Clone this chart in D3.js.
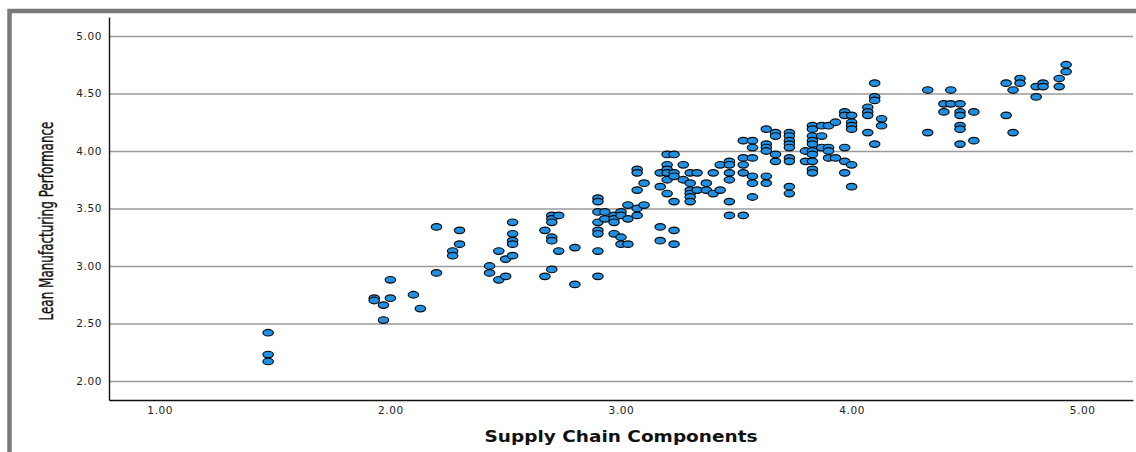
<script src="https://d3js.org/d3.v7.min.js"></script>

<style>
  body { margin: 0; background: #fff; }
  svg { display: block; }
</style>

<body>
  <svg id="vis"></svg>
</body>

<script>
  // - - - - data (x = supply chain, y = lean performance) - - - -
  var supplyChain = [
    1.47, 1.47, 1.47,
    1.93, 1.93, 1.97, 1.97, 2.00, 2.00, 2.10, 2.13,
    2.20, 2.20, 2.27, 2.27, 2.30, 2.30,
    2.43, 2.43, 2.47, 2.47, 2.50, 2.50,
    2.53, 2.53, 2.53, 2.53, 2.53,
    2.67, 2.67, 2.70, 2.70, 2.70, 2.70, 2.70, 2.70, 2.73, 2.73, 2.80, 2.80,
    2.90, 2.90, 2.90, 2.90, 2.90, 2.90, 2.90, 2.90,
    2.93, 2.93, 2.97, 2.97, 2.97, 2.97,
    3.00, 3.00, 3.00, 3.00, 3.03, 3.03, 3.03,
    3.07, 3.07, 3.07, 3.07, 3.07, 3.10, 3.10,
    3.17, 3.17, 3.17, 3.17,
    3.20, 3.20, 3.20, 3.20, 3.20, 3.20,
    3.23, 3.23, 3.23, 3.23, 3.23, 3.23,
    3.27, 3.27,
    3.30, 3.30, 3.30, 3.30, 3.30, 3.30,
    3.33, 3.33, 3.37, 3.37, 3.40, 3.40, 3.43, 3.43,
    3.47, 3.47, 3.47, 3.47, 3.47, 3.47,
    3.53, 3.53, 3.53, 3.53, 3.53,
    3.57, 3.57, 3.57, 3.57, 3.57, 3.57,
    3.63, 3.63, 3.63, 3.63, 3.63, 3.63,
    3.67, 3.67, 3.67, 3.67,
    3.73, 3.73, 3.73, 3.73, 3.73, 3.73, 3.73, 3.73, 3.73,
    3.80, 3.80,
    3.83, 3.83, 3.83, 3.83, 3.83, 3.83, 3.83, 3.83, 3.83, 3.83,
    3.87, 3.87, 3.87,
    3.90, 3.90, 3.90, 3.90,
    3.93, 3.93,
    3.97, 3.97, 3.97, 3.97, 3.97,
    4.00, 4.00, 4.00, 4.00, 4.00, 4.00,
    4.07, 4.07, 4.07, 4.07,
    4.10, 4.10, 4.10, 4.10,
    4.13, 4.13,
    4.33, 4.33, 4.40, 4.40, 4.43, 4.43,
    4.47, 4.47, 4.47, 4.47, 4.47, 4.47,
    4.53, 4.53, 4.67, 4.67, 4.70, 4.70, 4.73, 4.73,
    4.80, 4.80, 4.83, 4.83, 4.90, 4.90, 4.93, 4.93
  ];

  var leanPerf = [
    2.42, 2.23, 2.17,
    2.72, 2.70, 2.66, 2.53, 2.88, 2.72, 2.75, 2.63,
    3.34, 2.94, 3.13, 3.09, 3.31, 3.19,
    3.00, 2.94, 3.13, 2.88, 3.06, 2.91,
    3.38, 3.28, 3.22, 3.19, 3.09,
    3.31, 2.91, 3.44, 3.41, 3.38, 3.25, 3.22, 2.97, 3.44, 3.13, 3.16, 2.84,
    3.59, 3.56, 3.47, 3.38, 3.31, 3.28, 3.13, 2.91,
    3.47, 3.41, 3.44, 3.41, 3.38, 3.28,
    3.47, 3.44, 3.25, 3.19, 3.53, 3.41, 3.19,
    3.84, 3.81, 3.66, 3.50, 3.44, 3.72, 3.53,
    3.81, 3.69, 3.34, 3.22,
    3.97, 3.88, 3.84, 3.81, 3.75, 3.63,
    3.97, 3.81, 3.78, 3.56, 3.31, 3.19,
    3.88, 3.75,
    3.81, 3.72, 3.66, 3.63, 3.60, 3.56,
    3.81, 3.66, 3.72, 3.66, 3.81, 3.63, 3.88, 3.66,
    3.91, 3.88, 3.81, 3.75, 3.56, 3.44,
    4.09, 3.94, 3.88, 3.81, 3.44,
    4.09, 4.03, 3.94, 3.78, 3.72, 3.60,
    4.19, 4.06, 4.03, 4.00, 3.78, 3.72,
    4.16, 4.13, 3.97, 3.91,
    4.16, 4.13, 4.09, 4.06, 4.03, 3.94, 3.91, 3.69, 3.63,
    4.00, 3.91,
    4.22, 4.19, 4.13, 4.09, 4.06, 4.00, 3.97, 3.91, 3.84, 3.81,
    4.22, 4.13, 4.03,
    4.22, 4.03, 4.00, 3.94,
    4.25, 3.94,
    4.34, 4.31, 4.03, 3.91, 3.81,
    4.31, 4.25, 4.22, 4.19, 3.88, 3.69,
    4.38, 4.34, 4.31, 4.16,
    4.59, 4.47, 4.44, 4.06,
    4.28, 4.22,
    4.53, 4.16, 4.41, 4.34, 4.53, 4.41,
    4.41, 4.34, 4.31, 4.22, 4.19, 4.06,
    4.34, 4.09, 4.59, 4.31, 4.53, 4.16, 4.63, 4.59,
    4.56, 4.47, 4.59, 4.56, 4.63, 4.56, 4.75, 4.69
  ];

  var xTicks = [1, 2, 3, 4, 5];
  var yTicks = [2, 2.5, 3, 3.5, 4, 4.5, 5];

  var xTitle = "Supply Chain Components";
  var yTitle = "Lean Manufacturing Performance";

  // establishing variables
  var width = 1136,
      height = 452;

  var svg = d3.select("#vis")
    .attr("width", width)
    .attr("height", height);

  // outer frame (only top and left edges show in the window)
  svg.append("rect")
    .attr("x", 9.5)
    .attr("y", 11)
    .attr("width", width + 20)
    .attr("height", height + 20)
    .attr("fill", "none")
    .attr("stroke", "#7a7a7a")
    .attr("stroke-width", 4.5);

  // scaling
  var xscale = d3.scaleLinear()
    .domain([0.78, 5.22])
    .range([109, 1133]);

  var yscale = d3.scaleLinear()
    .domain([1.835, 5.165])
    .range([400, 17]);

  // horizontal grid lines
  svg.append("g")
    .attr("transform", "translate(109,0)")
    .call(d3.axisLeft(yscale)
      .tickValues(yTicks)
      .tickSize(-(1133 - 109))
      .tickFormat(""))
    .call(function(g) {
      g.select(".domain").remove();
      g.selectAll("line").attr("stroke", "#9a9a9a").attr("stroke-width", 1.3);
    });

  // Y axis
  var y_axis = d3.axisLeft(yscale)
    .tickValues(yTicks)
    .tickSize(0)
    .tickPadding(7)
    .tickFormat(d3.format(".2f"));
  svg.append("g")
    .attr("class", "yAxis")
    .attr("transform", "translate(109,0)")
    .call(y_axis)
    .call(function(g) {
      g.select(".domain").attr("stroke", "#111").attr("stroke-width", 1.4);
      g.selectAll("text")
        .attr("fill", "#222")
        .style("font-family", "'DejaVu Sans', Verdana, sans-serif")
        .style("font-size", "10.5px")
        .style("letter-spacing", "0.6px");
    });

  // X axis
  var x_axis = d3.axisBottom(xscale)
    .tickValues(xTicks)
    .tickSize(0)
    .tickPadding(7)
    .tickFormat(d3.format(".2f"));
  svg.append("g")
    .attr("class", "xAxis")
    .attr("transform", "translate(0,400)")
    .call(x_axis)
    .call(function(g) {
      g.select(".domain").attr("stroke", "#111").attr("stroke-width", 1.4);
      g.selectAll("text")
        .attr("fill", "#222")
        .style("font-family", "'DejaVu Sans', Verdana, sans-serif")
        .style("font-size", "10.5px")
        .style("letter-spacing", "0.6px");
    });

  // X axis label
  svg.append("text")
    .attr("x", xscale(3))
    .attr("y", 442)
    .attr("text-anchor", "middle")
    .attr("textLength", 273)
    .attr("lengthAdjust", "spacingAndGlyphs")
    .style("font-family", "'DejaVu Sans', Verdana, sans-serif")
    .style("font-weight", "bold")
    .style("font-size", "15px")
    .attr("fill", "#111")
    .text(xTitle);

  // Y axis label (squeezed narrow face, as in the original export)
  svg.append("text")
    .attr("transform", "translate(53,221) rotate(-90)")
    .attr("text-anchor", "middle")
    .attr("textLength", 199)
    .attr("lengthAdjust", "spacingAndGlyphs")
    .style("font-family", "'Liberation Sans Narrow', 'DejaVu Sans Condensed', sans-serif")
    .style("font-size", "20px")
    .attr("fill", "#111")
    .attr("stroke", "#111")
    .attr("stroke-width", 0.35)
    .text(yTitle);

  // points
  var pts = supplyChain.map(function(x, i) { return { x: x, y: leanPerf[i] }; });

  svg.append("g")
    .selectAll("ellipse")
    .data(pts)
    .enter().append("ellipse")
    .attr("cx", function(d) { return xscale(d.x); })
    .attr("cy", function(d) { return yscale(d.y); })
    .attr("rx", 5.2)
    .attr("ry", 3.3)
    .attr("fill", "#1f90e4")
    .attr("stroke", "#0a0a0a")
    .attr("stroke-width", 1.2);
</script>
